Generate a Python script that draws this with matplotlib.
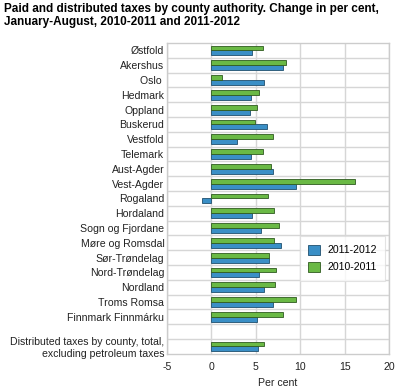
import numpy as np
import matplotlib
matplotlib.use("Agg")
import matplotlib.pyplot as plt

# counties, top to bottom ('' is the empty row before the total)
counties = ["Østfold", "Akershus", "Oslo ", "Hedmark", "Oppland", "Buskerud",
            "Vestfold", "Telemark", "Aust-Agder", "Vest-Agder", "Rogaland",
            "Hordaland", "Sogn og Fjordane", "Møre og Romsdal", "Sør-Trøndelag",
            "Nord-Trøndelag", "Nordland", "Troms Romsa", "Finnmark Finnmárku", "",
            "Distributed taxes by county, total,\nexcluding petroleum taxes"]

# change in per cent, 2011-2012 (blue) and 2010-2011 (green)
chg_2011_2012 = [4.6, 8.1, 5.9, 4.4, 4.3, 6.2, 2.9, 4.5, 6.9, 9.5, -1.1,
                 4.6, 5.6, 7.8, 6.5, 5.4, 5.9, 6.9, 5.1, None, 5.2]
chg_2010_2011 = [5.8, 8.4, 1.2, 5.3, 5.1, 4.9, 6.9, 5.8, 6.7, 16.2, 6.4,
                 7.0, 7.6, 7.0, 6.5, 7.3, 7.1, 9.5, 8.1, None, 5.9]

xticks = [-5, 0, 5, 10, 15, 20]

plt.rcParams['font.family'] = ['Liberation Sans', 'DejaVu Sans']
fs = 7.6

fig = plt.figure(figsize=(3.95, 3.91), dpi=100)
ax = fig.add_axes([0.423, 0.095, 0.562, 0.795])

ypos = np.arange(len(counties))
h = 0.33
blue = [np.nan if v is None else v for v in chg_2011_2012]
green = [np.nan if v is None else v for v in chg_2010_2011]

ax.barh(ypos + h / 2, blue, height=h, color="#3a8fc6", edgecolor="#1f4f6e",
        linewidth=0.6, label="2011-2012", zorder=3)
ax.barh(ypos - h / 2, green, height=h, color="#6ab945", edgecolor="#2f5a1f",
        linewidth=0.6, label="2010-2011", zorder=3)

ax.set_xlim(-5, 20)
ax.set_ylim(len(counties) - 0.5, -0.5)
ax.set_xticks(xticks)
ax.set_xticklabels([str(t) for t in xticks], fontsize=fs, color="#222222")
ax.set_yticks(ypos)
ax.set_yticklabels(counties, fontsize=fs, color="#222222")
ax.tick_params(axis="y", length=0, pad=2)
ax.tick_params(axis="x", length=0, pad=6)

# grid lines: vertical at ticks, horizontal between rows
for t in xticks:
    ax.axvline(t, color="#d6d6d6", linewidth=1.0, zorder=1)
for i in range(len(counties) - 1):
    ax.axhline(i + 0.5, color="#d6d6d6", linewidth=1.0, zorder=1)

for s in ax.spines.values():
    s.set_color("#cccccc")
    s.set_linewidth(1.0)

ax.set_xlabel("Per cent", fontsize=fs, color="#222222", labelpad=4)

leg = ax.legend(loc="upper left", bbox_to_anchor=(0.575, 0.395), fontsize=fs,
                frameon=True, fancybox=False, edgecolor="#dddddd",
                handlelength=1.1, handleheight=1.1, borderpad=0.8,
                labelspacing=0.6, handletextpad=0.7)
leg.get_frame().set_linewidth(0.8)

fig.text(0.01, 0.992, "Paid and distributed taxes by county authority. Change in per cent,\n"
         "January-August, 2010-2011 and 2011-2012",
         fontsize=8.5, fontweight="bold", va="top", ha="left", linespacing=1.15)

fig.savefig("out.png", dpi=100)
